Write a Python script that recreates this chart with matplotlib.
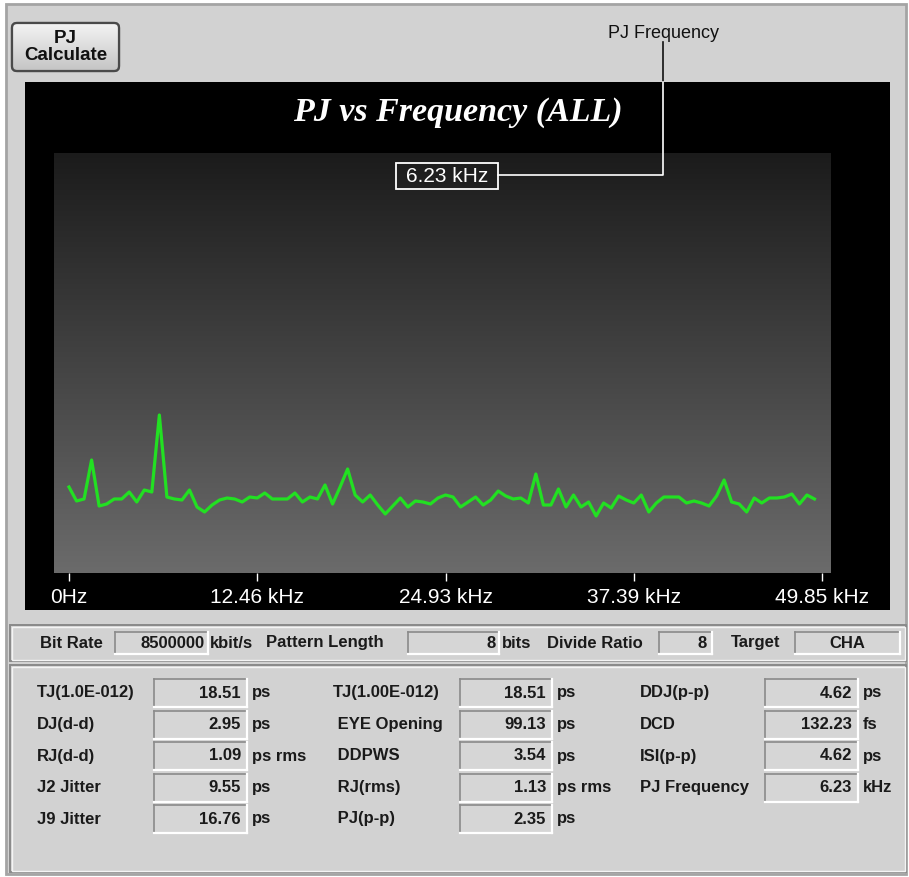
import numpy as np
import matplotlib
matplotlib.use('Agg')
import matplotlib.pyplot as plt
from matplotlib.patches import Rectangle, FancyBboxPatch

# PJ spectrum, one value per bin (ps), bin width = full span / 100
pj_ps = [0.86, 0.72, 0.74, 1.13, 0.67, 0.69, 0.74, 0.74, 0.81, 0.71,
         0.83, 0.81, 1.58, 0.76, 0.74, 0.73, 0.83, 0.66, 0.61, 0.68,
         0.73, 0.75, 0.74, 0.71, 0.76, 0.75, 0.80, 0.74, 0.74, 0.74,
         0.80, 0.71, 0.76, 0.74, 0.88, 0.69, 0.86, 1.04, 0.78, 0.71,
         0.78, 0.68, 0.59, 0.67, 0.75, 0.66, 0.72, 0.71, 0.69, 0.75,
         0.78, 0.76, 0.66, 0.71, 0.76, 0.68, 0.73, 0.82, 0.77, 0.74,
         0.75, 0.70, 0.99, 0.68, 0.68, 0.84, 0.66, 0.78, 0.66, 0.71,
         0.57, 0.70, 0.65, 0.77, 0.73, 0.70, 0.78, 0.61, 0.70, 0.76,
         0.76, 0.76, 0.70, 0.72, 0.70, 0.67, 0.77, 0.93, 0.71, 0.69,
         0.61, 0.75, 0.70, 0.75, 0.75, 0.76, 0.79, 0.69, 0.78, 0.74]
span_khz = 49.85
tick_khz = [0, 12.46, 24.93, 37.39, 49.85]
tick_labels = ['0Hz', '12.46 kHz', '24.93 kHz', '37.39 kHz', '49.85 kHz']
pj_freq_khz = 6.23

header_labels = ['Bit Rate', 'Pattern Length', 'Divide Ratio', 'Target']
header_values = ['8500000', '8', '8', 'CHA']
header_units = ['kbit/s', 'bits', '', '']

col1_labels = ['TJ(1.0E-012)', 'DJ(d-d)', 'RJ(d-d)', 'J2 Jitter', 'J9 Jitter']
col1_values = ['18.51', '2.95', '1.09', '9.55', '16.76']
col1_units = ['ps', 'ps', 'ps rms', 'ps', 'ps']
col2_labels = ['TJ(1.00E-012)', ' EYE Opening', ' DDPWS', ' RJ(rms)', ' PJ(p-p)']
col2_values = ['18.51', '99.13', '3.54', '1.13', '2.35']
col2_units = ['ps', 'ps', 'ps', 'ps rms', 'ps']
col3_labels = ['DDJ(p-p)', 'DCD', 'ISI(p-p)', 'PJ Frequency']
col3_values = ['4.62', '132.23', '4.62', '6.23']
col3_units = ['ps', 'fs', 'ps', 'kHz']

W, H = 909, 877
PANEL = '#d2d2d2'
FONT = 'Liberation Sans'

fig = plt.figure(figsize=(W / 100, H / 100), dpi=100, facecolor='white')

# background layer in pixel coordinates
bg = fig.add_axes([0, 0, 1, 1])
bg.set_xlim(0, W)
bg.set_ylim(H, 0)
bg.axis('off')

bg.add_patch(Rectangle((6, 4), 900, 870, facecolor=PANEL, edgecolor='#a4a4a4', lw=2))

# PJ Calculate button
btn = FancyBboxPatch((12, 23), 107, 48, boxstyle='round,pad=0,rounding_size=5',
                     facecolor='#e0e0e0', edgecolor='#4a4a4a', lw=1.6)
bg.add_patch(btn)
bgrad = np.linspace(0, 1, 64).reshape(-1, 1)
im = bg.imshow(bgrad, extent=[12, 119, 71, 23], aspect='auto',
               cmap=matplotlib.colors.LinearSegmentedColormap.from_list('b', ['#f4f4f4', '#c4c4c4']),
               zorder=1.5)
im.set_clip_path(btn)
bg.add_patch(FancyBboxPatch((12, 23), 107, 48, boxstyle='round,pad=0,rounding_size=5',
                            facecolor='none', edgecolor='#4a4a4a', lw=1.6, zorder=2))
bg.text(65.5, 47, 'PJ\nCalculate', ha='center', va='center', fontsize=13.5,
        fontweight='bold', family=FONT, linespacing=1.0, color='#111111', zorder=3)
bg.set_xlim(0, W)
bg.set_ylim(H, 0)

# black chart panel
bg.add_patch(Rectangle((25, 82), 865, 528, facecolor='black', edgecolor='none'))
bg.text(458, 112, 'PJ vs Frequency (ALL)', ha='center', va='center', color='white',
        fontsize=24.5, fontweight='bold', fontstyle='italic', family='Liberation Serif')


def sunken_box(x, y, w, h):
    bg.add_patch(Rectangle((x, y), w, h, facecolor='#d6d6d6', edgecolor='none', zorder=2))
    bg.plot([x, x + w], [y, y], color='#8a8a8a', lw=1.2, zorder=2)
    bg.plot([x, x], [y, y + h], color='#8a8a8a', lw=1.2, zorder=2)
    bg.plot([x, x + w], [y + h, y + h], color='white', lw=1.6, zorder=2)
    bg.plot([x + w, x + w], [y, y + h], color='white', lw=1.6, zorder=2)


def groove(x, y, w, h):
    bg.add_patch(Rectangle((x, y), w, h, facecolor='none', edgecolor='#8a8a8a', lw=1.4))
    bg.add_patch(Rectangle((x + 1.5, y + 1.5), w - 3, h - 3, facecolor='none',
                           edgecolor='#f4f4f4', lw=1.0))


lab_kw = dict(fontsize=12, fontweight='bold', family=FONT, color='#1a1a1a', va='center')
val_kw = dict(lab_kw, zorder=3)

# header strip
groove(10, 625, 896, 36)
hy = 643
bg.text(40, hy, header_labels[0], ha='left', **lab_kw)
sunken_box(115, 632, 93, 22)
bg.text(205, hy, header_values[0], ha='right', **val_kw)
bg.text(210, hy, header_units[0], ha='left', **lab_kw)
bg.text(266, hy, header_labels[1], ha='left', **lab_kw)
sunken_box(408, 632, 91, 22)
bg.text(496, hy, header_values[1], ha='right', **val_kw)
bg.text(502, hy, header_units[1], ha='left', **lab_kw)
bg.text(547, hy, header_labels[2], ha='left', **lab_kw)
sunken_box(659, 632, 53, 22)
bg.text(707, hy, header_values[2], ha='right', **val_kw)
bg.text(731, hy, header_labels[3], ha='left', **lab_kw)
sunken_box(795, 632, 105, 22)
bg.text(847, hy, header_values[3], ha='center', **val_kw)

# results panel
groove(10, 665, 896, 207)
rows = [693, 724.5, 756, 787.5, 819]
columns = [
    (col1_labels, col1_values, col1_units, 37, 154, 93),
    (col2_labels, col2_values, col2_units, 333, 460, 92),
    (col3_labels, col3_values, col3_units, 640, 765, 93),
]
for labels, values, units, lx, bx, bw in columns:
    for i, lab in enumerate(labels):
        y = rows[i]
        bg.text(lx, y, lab, ha='left', **lab_kw)
        sunken_box(bx, y - 14, bw, 28)
        bg.text(bx + bw - 6, y, values[i], ha='right', **val_kw)
        bg.text(bx + bw + 5, y, units[i], ha='left', **lab_kw)

# the spectrum plot itself
x0, x1, y0, y1 = 54, 830, 153, 573
ax = fig.add_axes([x0 / W, 1 - y1 / H, (x1 - x0) / W, (y1 - y0) / H])
px_per_khz = (822 - 69) / span_khz
xlo = -(69 - x0) / px_per_khz
xhi = (x1 - 69) / px_per_khz
ylo, yhi = 0, 4.2
grad = np.linspace(0, 1, 256).reshape(-1, 1)
ax.imshow(grad, extent=[xlo, xhi, ylo, yhi], origin='upper', aspect='auto',
          cmap=matplotlib.colors.LinearSegmentedColormap.from_list('g', ['#1b1b1b', '#6b6b6b']),
          zorder=0)
freqs = np.arange(len(pj_ps)) * span_khz / len(pj_ps)
ax.plot(freqs, pj_ps, color='#22e022', lw=2.3, solid_joinstyle='round', zorder=2)
ax.set_xlim(xlo, xhi)
ax.set_ylim(ylo, yhi)
ax.set_xticks(tick_khz)
ax.set_xticklabels(tick_labels, family=FONT, fontsize=15, color='white')
ax.set_yticks([])
ax.tick_params(axis='x', colors='white', length=6, width=1, pad=5)
for s in ax.spines.values():
    s.set_visible(False)

# overlay: PJ Frequency marker
ov = fig.add_axes([0, 0, 1, 1])
ov.set_xlim(0, W)
ov.set_ylim(H, 0)
ov.axis('off')
ov.patch.set_alpha(0)
ov.text(663, 33, 'PJ Frequency', ha='center', va='center', fontsize=13,
        family=FONT, color='#111111')
ov.plot([663, 663], [42, 82], color='#111111', lw=1.2)
ov.plot([663, 663, 498], [82, 175, 175], color='white', lw=1.2)
ov.add_patch(Rectangle((396, 163), 102, 26, facecolor='none', edgecolor='white', lw=1.3))
ov.text(447, 176.5, '%.2f kHz' % pj_freq_khz, ha='center', va='center', fontsize=15,
        family=FONT, color='white')

plt.savefig('out.png', dpi=100)
plt.close()
